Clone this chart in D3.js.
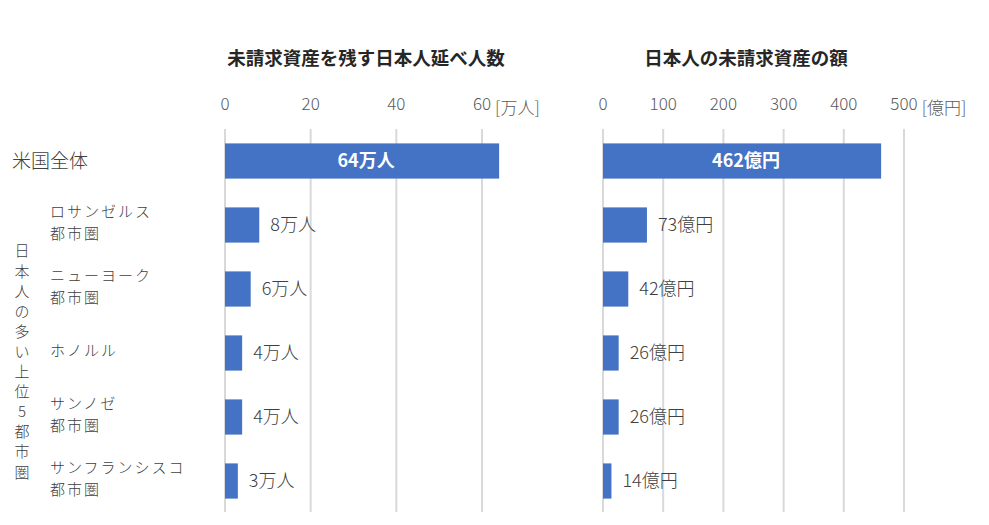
<!DOCTYPE html>
<html><head><meta charset="utf-8">
<script src="https://cdn.jsdelivr.net/npm/d3@7"></script>
<style>
html,body{margin:0;padding:0;background:#fff;}
svg{display:block;font-family:"Noto Sans CJK JP","Noto Sans",sans-serif;}
</style></head>
<body><svg id="c" width="989" height="525"></svg>
<script>
const categories = ["米国全体","ロサンゼルス\n都市圏","ニューヨーク\n都市圏","ホノルル","サンノゼ\n都市圏","サンフランシスコ\n都市圏"];
const people = [64, 8, 6, 4, 4, 3];        // 万人
const amounts = [462, 73, 42, 26, 26, 14]; // 億円
const peopleTicks = [0, 20, 40, 60];
const amountTicks = [0, 100, 200, 300, 400, 500];
const titles = ["未請求資産を残す日本人延べ人数", "日本人の未請求資産の額"];
const units = ["[万人]", "[億円]"];
const peopleSuffix = "万人", amountSuffix = "億円";
const groupLabel = "日本人の多い上位5都市圏";

const svg = d3.select("#c");
const barColor = "#4472C4";
const y = d3.scaleBand().domain(categories).range([129, 513]).paddingInner(0.45).paddingOuter(0.225);

function panel(values, ticks, x, title, unit, suffix, titleCx) {
  const g = svg.append("g");
  g.selectAll("line.grid").data(ticks).join("line")
    .attr("x1", d => x(d)).attr("x2", d => x(d))
    .attr("y1", 129).attr("y2", 512)
    .attr("stroke", "#d9d9d9").attr("stroke-width", 2);
  const tl = g.selectAll("text.tick").data(ticks).join("text")
    .attr("class", "tick")
    .attr("x", d => x(d)).attr("y", 110)
    .attr("text-anchor", "middle").attr("font-size", 17).attr("font-weight", 300).attr("fill", "#595959")
    .text(d => d);
  const lastNode = tl.nodes()[tl.nodes().length - 1];
  const bb = lastNode.getBBox();
  g.append("text").attr("x", bb.x + bb.width + 4).attr("y", 114)
    .attr("font-size", 17).attr("font-weight", 300).attr("fill", "#595959").text(unit);
  g.append("text").attr("x", titleCx).attr("y", 65)
    .attr("text-anchor", "middle").attr("font-size", 18.5).attr("font-weight", 700).attr("fill", "#262626")
    .text(title);
  g.selectAll("rect").data(values).join("rect")
    .attr("x", x(0)).attr("y", (d, i) => y(categories[i]))
    .attr("width", d => x(d) - x(0)).attr("height", y.bandwidth())
    .attr("fill", barColor);
  g.selectAll("text.val").data(values).join("text")
    .attr("class", "val")
    .attr("x", (d, i) => i === 0 ? (x(0) + x(d)) / 2 + 4 : x(d) + 11)
    .attr("y", (d, i) => y(categories[i]) + y.bandwidth() / 2)
    .attr("dy", "0.36em")
    .attr("text-anchor", (d, i) => i === 0 ? "middle" : "start")
    .attr("font-size", 18)
    .attr("font-weight", (d, i) => i === 0 ? 700 : 300)
    .attr("fill", (d, i) => i === 0 ? "#ffffff" : "#404040")
    .text(d => d + suffix);
}

const xPeople = d3.scaleLinear().domain([0, 60]).range([225, 482]);
const xAmount = d3.scaleLinear().domain([0, 500]).range([603, 904]);
panel(people, peopleTicks, xPeople, titles[0], units[0], peopleSuffix, 366);
panel(amounts, amountTicks, xAmount, titles[1], units[1], amountSuffix, 746);

categories.forEach((c, i) => {
  const cy = y(c) + y.bandwidth() / 2;
  const lines = c.split("\n");
  if (i === 0) {
    svg.append("text").attr("x", 12).attr("y", cy).attr("dy", "0.36em")
      .attr("font-size", 19).attr("font-weight", 300).attr("fill", "#404040").text(c);
  } else {
    const t = svg.append("text").attr("font-size", 15).attr("font-weight", 300).attr("fill", "#404040").attr("letter-spacing", 2);
    lines.forEach((l, j) => {
      const off = lines.length === 1 ? 0 : (j === 0 ? -11 : 11);
      t.append("tspan").attr("x", 50).attr("y", cy - 2 + off).attr("dy", "0.36em").text(l);
    });
  }
});

Array.from(groupLabel).forEach((ch, i) => {
  svg.append("text").attr("x", 22).attr("y", 251 + i * 20.1).attr("dy", "0.36em")
    .attr("text-anchor", "middle").attr("font-size", 15).attr("font-weight", 300).attr("fill", "#404040").text(ch);
});
</script></body></html>
